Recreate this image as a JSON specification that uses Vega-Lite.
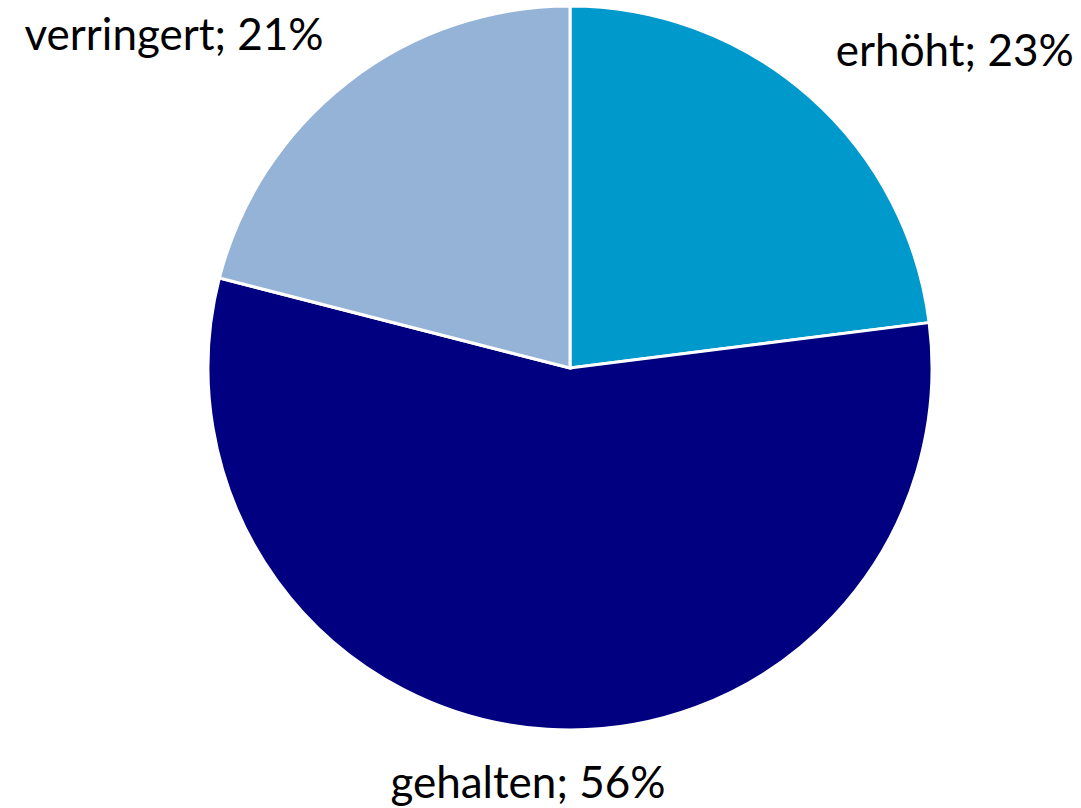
{
  "$schema": "https://vega.github.io/schema/vega-lite/v6.json",
  "autosize": {"type": "none"},
  "padding": {"left": 59, "top": 0, "right": 0, "bottom": 72},
  "width": 1022,
  "height": 736,
  "background": "white",
  "data": {
    "values": [
      {"cat": "erhöht", "value": 23},
      {"cat": "gehalten", "value": 56},
      {"cat": "verringert", "value": 21}
    ]
  },
  "encoding": {
    "theta": {"field": "value", "type": "quantitative", "stack": true},
    "order": {"field": "cat", "sort": "ascending"}
  },
  "layer": [
    {
      "mark": {"type": "arc", "outerRadius": 362, "stroke": "white", "strokeWidth": 3},
      "encoding": {
        "color": {
          "field": "cat",
          "type": "nominal",
          "scale": {"domain": ["erhöht", "gehalten", "verringert"], "range": ["#0099CC", "#000080", "#95B3D7"]},
          "legend": null
        }
      }
    },
    {
      "mark": {"type": "text", "radius": 402, "align": "left", "baseline": "alphabetic", "font": "Lato", "fontSize": 44, "color": "black"},
      "encoding": {
        "text": {"condition": {"test": "datum.cat === 'erhöht'", "value": "erhöht; 23%"}, "value": ""}
      }
    },
    {
      "mark": {"type": "text", "radius": 402, "align": "right", "baseline": "alphabetic", "font": "Lato", "fontSize": 44, "color": "black"},
      "encoding": {
        "text": {"condition": {"test": "datum.cat === 'verringert'", "value": "verringert; 21%"}, "value": ""}
      }
    },
    {
      "mark": {"type": "text", "radius": 431, "dx": -15, "align": "center", "baseline": "alphabetic", "font": "Lato", "fontSize": 44, "color": "black"},
      "encoding": {
        "text": {"condition": {"test": "datum.cat === 'gehalten'", "value": "gehalten; 56%"}, "value": ""}
      }
    }
  ]
}
